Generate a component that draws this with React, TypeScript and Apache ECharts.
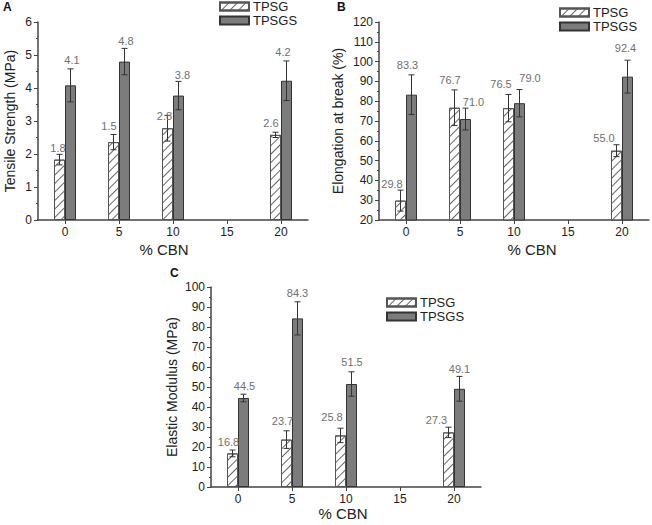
import React, { useEffect, useRef } from "react";
import * as echarts from "echarts";

// ---------- data ----------
const categories = ["0", "5", "10", "15", "20"];

// Panel A: Tensile strength (MPa)
const tsTPSG = [1.83, 2.36, 2.78, null, 2.58];
const tsTPSGErr = [0.16, 0.23, 0.39, null, 0.08];
const tsTPSGLabels = ["1.8", "1.5", "2.8", "", "2.6"];
const tsTPSGS = [4.08, 4.8, 3.77, null, 4.22];
const tsTPSGSErr = [0.5, 0.4, 0.43, null, 0.6];
const tsTPSGSLabels = ["4.1", "4.8", "3.8", "", "4.2"];

// Panel B: Elongation at break (%)
const ebTPSG = [29.8, 76.7, 76.5, null, 55.0];
const ebTPSGErr = [5.3, 9.0, 6.9, null, 3.0];
const ebTPSGLabels = ["29.8", "76.7", "76.5", "", "55.0"];
const ebTPSGS = [83.3, 71.0, 79.0, null, 92.4];
const ebTPSGSErr = [10.0, 5.5, 6.9, null, 8.3];
const ebTPSGSLabels = ["83.3", "71.0", "79.0", "", "92.4"];

// Panel C: Elastic modulus (MPa)
const emTPSG = [16.8, 23.7, 25.8, null, 27.3];
const emTPSGErr = [1.7, 4.4, 3.6, null, 2.6];
const emTPSGLabels = ["16.8", "23.7", "25.8", "", "27.3"];
const emTPSGS = [44.5, 84.3, 51.5, null, 49.1];
const emTPSGSErr = [1.9, 8.3, 6.1, null, 6.2];
const emTPSGSLabels = ["44.5", "84.3", "51.5", "", "49.1"];

// ---------- styling (label pixel nudges relative to error-bar top) ----------
const offTsA: number[][] = [[-1.5, -6], [-4.5, -9], [-3, 1], [0, 0], [-4.5, -9]];
const offTsB: number[][] = [[1.5, -9], [1.5, -7], [4, -6], [0, 0], [-3.5, -9]];
const offEbA: number[][] = [[-8.5, -6], [-4.5, -10], [-7.5, -10], [0, 0], [-12.5, -7]];
const offEbB: number[][] = [[-4, -10], [8, -6], [10.5, -12], [0, 0], [-2, -12]];
const offEmA: number[][] = [[-4, -8], [-4, -10], [-8.5, -11], [0, 0], [-12, -7]];
const offEmB: number[][] = [[1, -8], [0, -9], [0.5, -9.5], [0, 0], [0, -7.5]];

const FONT = '"Liberation Sans", Arial, Helvetica, sans-serif';
const BAR_W = 11;
const HATCH = {
  symbol: "rect",
  symbolSize: 1,
  dashArrayX: [1, 0],
  dashArrayY: [1, 5],
  rotation: -Math.PI / 4,
  color: "#666",
};

function barSeries(name: string, data: (number | null)[], idx: number, hatched: boolean) {
  return {
    name,
    type: "bar",
    xAxisIndex: idx,
    yAxisIndex: idx,
    barWidth: BAR_W,
    barGap: "0%",
    data: data.map((v) => (v == null ? "-" : v)),
    itemStyle: hatched
      ? { color: "#fff", borderColor: "#555", borderWidth: 1, decal: HATCH }
      : { color: "#7c7c7c", borderColor: "#333", borderWidth: 1 },
    z: 2,
  };
}

function errSeries(
  values: (number | null)[],
  errs: (number | null)[],
  labels: string[],
  offs: number[][],
  idx: number,
  side: number
) {
  const items: { i: number; v: number; e: number; l: string; o: number[] }[] = [];
  values.forEach((v, i) => {
    if (v != null) items.push({ i, v, e: errs[i] as number, l: labels[i], o: offs[i] });
  });
  return {
    type: "custom",
    xAxisIndex: idx,
    yAxisIndex: idx,
    z: 5,
    silent: true,
    data: items.map((d) => [d.i, d.v, d.e]),
    renderItem: (params: any, api: any) => {
      const it = items[params.dataIndex];
      const i = api.value(0);
      const v = api.value(1);
      const e = api.value(2);
      const top = api.coord([i, v + e]);
      const bot = api.coord([i, v - e]);
      const x = top[0] + side * (BAR_W / 2);
      const cap = 3;
      const ls = { stroke: "#333", lineWidth: 1 };
      return {
        type: "group",
        children: [
          { type: "line", shape: { x1: x, y1: top[1], x2: x, y2: bot[1] }, style: ls },
          { type: "line", shape: { x1: x - cap, y1: top[1], x2: x + cap, y2: top[1] }, style: ls },
          { type: "line", shape: { x1: x - cap, y1: bot[1], x2: x + cap, y2: bot[1] }, style: ls },
          {
            type: "text",
            x: x + it.o[0],
            y: top[1] + it.o[1],
            style: {
              text: it.l,
              fill: "#707070",
              fontSize: 11,
              fontFamily: FONT,
              align: "center",
              verticalAlign: "middle",
            },
          },
        ],
      };
    },
  };
}

const axisLine = { show: true, lineStyle: { color: "#444", width: 1.5 } };

function xAxis(idx: number, nameGap: number, namePad: number[]) {
  return {
    type: "category",
    gridIndex: idx,
    data: categories,
    boundaryGap: true,
    axisLine,
    axisTick: { show: true, alignWithLabel: true, length: 4, lineStyle: { color: "#444" } },
    axisLabel: { color: "#222", fontSize: 12, fontFamily: FONT, margin: 6 },
    splitLine: { show: false },
    name: "% CBN",
    nameLocation: "middle",
    nameGap,
    nameTextStyle: { color: "#222", fontSize: 15, fontFamily: FONT, padding: namePad },
  };
}

function yAxis(idx: number, name: string, min: number, max: number, interval: number, nameGap: number) {
  return {
    type: "value",
    gridIndex: idx,
    min,
    max,
    interval,
    axisLine,
    axisTick: { show: true, length: 4, lineStyle: { color: "#444" } },
    minorTick: { show: true, splitNumber: 2, length: 2, lineStyle: { color: "#444" } },
    axisLabel: { color: "#222", fontSize: 12, fontFamily: FONT, margin: 6 },
    splitLine: { show: false },
    minorSplitLine: { show: false },
    name,
    nameLocation: "middle",
    nameGap,
    nameTextStyle: { color: "#222", fontSize: 14, fontFamily: FONT },
  };
}

function legend(left: number, top: number) {
  return {
    data: ["TPSG", "TPSGS"],
    left,
    top,
    orient: "vertical",
    padding: 0,
    itemWidth: 29,
    itemHeight: 8,
    itemGap: 1,
    icon: "rect",
    selectedMode: false,
    textStyle: { color: "#222", fontSize: 13, fontFamily: FONT, padding: [0, 0, 0, -1] },
  };
}

export default function App() {
  const ref = useRef<HTMLDivElement>(null);
  useEffect(() => {
    if (!ref.current) return;
    const chart = echarts.init(ref.current, undefined, { renderer: "svg" });
    chart.setOption({
      animation: false,
      backgroundColor: "#fff",
      textStyle: { fontFamily: FONT },
      grid: [
        { left: 38, top: 22, width: 270, height: 198 },
        { left: 379, top: 22, width: 270, height: 198 },
        { left: 211, top: 287, width: 270, height: 200 },
      ],
      xAxis: [
        xAxis(0, 22, [0, 18, 0, 0]),
        xAxis(1, 22, [0, 0, 0, 36]),
        xAxis(2, 18, [0, 6, 0, 0]),
      ],
      yAxis: [
        yAxis(0, "Tensile Strength (MPa)", 0, 6, 1, 21),
        yAxis(1, "Elongation at break (%)", 20, 120, 10, 34),
        yAxis(2, "Elastic Modulus (MPa)", 0, 100, 10, 32),
      ],
      legend: [legend(219, 0), legend(559, 6), legend(386, 296)],
      graphic: [
        { type: "text", left: 3, top: 1, style: { text: "A", fontSize: 12, fontWeight: "bold", fontFamily: FONT, fill: "#111" } },
        { type: "text", left: 337, top: 1, style: { text: "B", fontSize: 12, fontWeight: "bold", fontFamily: FONT, fill: "#111" } },
        { type: "text", left: 170, top: 267, style: { text: "C", fontSize: 12, fontWeight: "bold", fontFamily: FONT, fill: "#111" } },
      ],
      series: [
        barSeries("TPSG", tsTPSG, 0, true),
        barSeries("TPSGS", tsTPSGS, 0, false),
        errSeries(tsTPSG, tsTPSGErr, tsTPSGLabels, offTsA, 0, -1),
        errSeries(tsTPSGS, tsTPSGSErr, tsTPSGSLabels, offTsB, 0, 1),
        barSeries("TPSG", ebTPSG, 1, true),
        barSeries("TPSGS", ebTPSGS, 1, false),
        errSeries(ebTPSG, ebTPSGErr, ebTPSGLabels, offEbA, 1, -1),
        errSeries(ebTPSGS, ebTPSGSErr, ebTPSGSLabels, offEbB, 1, 1),
        barSeries("TPSG", emTPSG, 2, true),
        barSeries("TPSGS", emTPSGS, 2, false),
        errSeries(emTPSG, emTPSGErr, emTPSGLabels, offEmA, 2, -1),
        errSeries(emTPSGS, emTPSGSErr, emTPSGSLabels, offEmB, 2, 1),
      ],
    });
    return () => chart.dispose();
  }, []);
  return (
    <div
      ref={ref}
      style={{ position: "absolute", left: 0, top: 0, width: 652, height: 525 }}
    />
  );
}
